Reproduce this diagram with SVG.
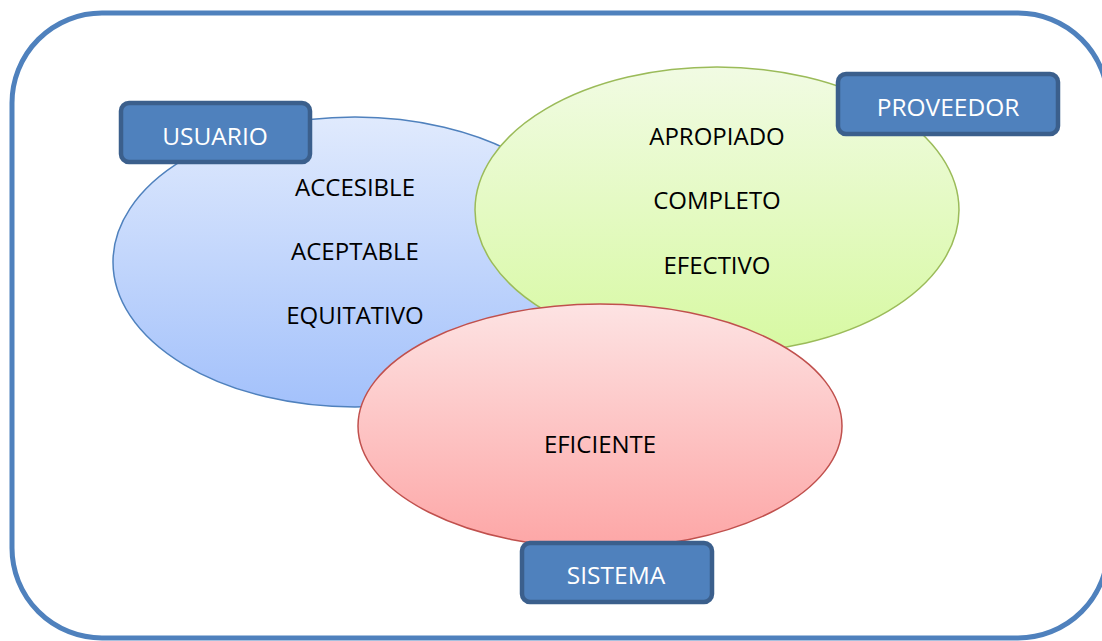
<svg xmlns="http://www.w3.org/2000/svg" width="1102" height="641" viewBox="0 0 1102 641">
<style>
.t{font-family:"Open Sans","Liberation Sans",sans-serif;font-size:24px;fill:#000;text-anchor:middle}
.lb{fill:#4f81bd;stroke:#3b5f8c;stroke-width:4.5}
.lt{font-family:"Open Sans","Liberation Sans",sans-serif;font-size:24.5px;fill:#fff;text-anchor:middle}
</style>
<defs>
<linearGradient id="gb" x1="0" y1="0" x2="0" y2="1"><stop offset="0" stop-color="#e0eafd"/><stop offset="1" stop-color="#a3c1fb"/></linearGradient>
<linearGradient id="gg" x1="0" y1="0" x2="0" y2="1"><stop offset="0" stop-color="#f1fbe3"/><stop offset="1" stop-color="#d7f9a2"/></linearGradient>
<linearGradient id="gr" x1="0" y1="0" x2="0" y2="1"><stop offset="0" stop-color="#fde3e3"/><stop offset="1" stop-color="#fda6a6"/></linearGradient>
</defs>
<rect id="frame" x="12" y="13" width="1096" height="625" rx="90" ry="90" fill="#fff" stroke="#4f81bd" stroke-width="5"/>
<g id="usuario-set"><ellipse cx="355" cy="262" rx="242" ry="145" fill="url(#gb)" stroke="#4f81bd" stroke-width="1.5"/></g>
<g id="proveedor-set"><ellipse cx="717" cy="210" rx="242" ry="143" fill="url(#gg)" stroke="#9bbb59" stroke-width="1.5"/></g>
<g id="sistema-set"><ellipse cx="600" cy="426" rx="242" ry="122" fill="url(#gr)" stroke="#c0504d" stroke-width="1.5"/></g>
<g id="texts-usuario">
<text class="t" x="355" y="196">ACCESIBLE</text>
<text class="t" x="355" y="260">ACEPTABLE</text>
<text class="t" x="355" y="324">EQUITATIVO</text>
</g>
<g id="texts-proveedor">
<text class="t" x="717" y="145">APROPIADO</text>
<text class="t" x="717" y="209">COMPLETO</text>
<text class="t" x="717" y="274">EFECTIVO</text>
</g>
<g id="texts-sistema"><text class="t" x="600" y="453">EFICIENTE</text></g>
<g id="label-usuario"><rect class="lb" x="121" y="103" width="189" height="59" rx="8"/><text class="lt" x="215" y="145">USUARIO</text></g>
<g id="label-proveedor"><rect class="lb" x="838" y="74" width="220" height="60" rx="8"/><text class="lt" x="948" y="116">PROVEEDOR</text></g>
<g id="label-sistema"><rect class="lb" x="522" y="543" width="190" height="59" rx="8"/><text class="lt" x="616" y="584">SISTEMA</text></g>
<g id="connectors"></g>
</svg>
